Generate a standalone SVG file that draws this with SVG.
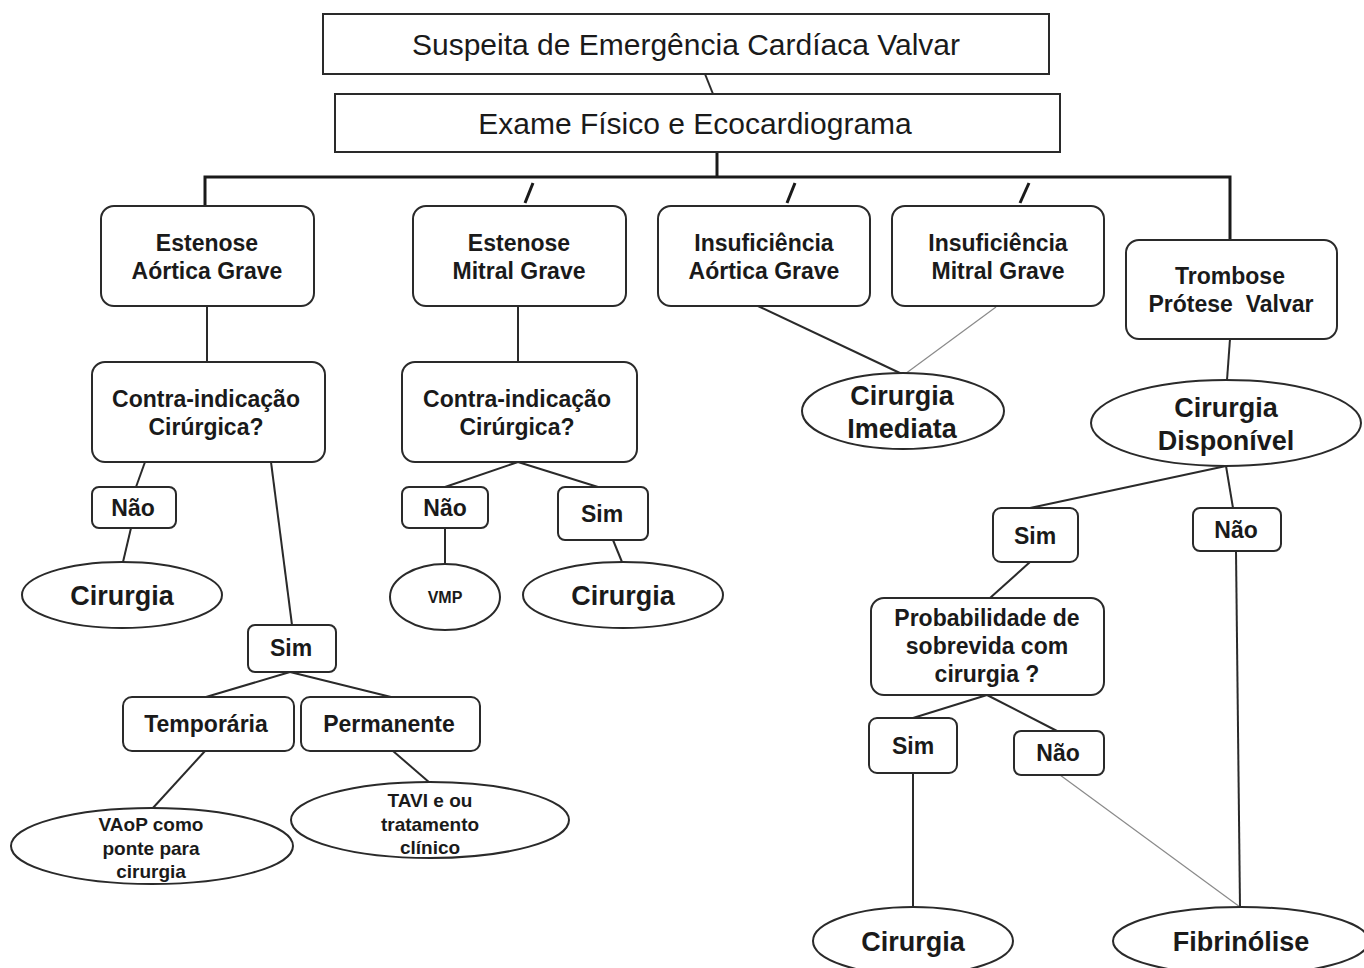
<svg xmlns="http://www.w3.org/2000/svg" width="1364" height="968" viewBox="0 0 1364 968">
<style>
  .bg{fill:#ffffff}
  .sq{fill:#fff;stroke:#2a2a2a;stroke-width:2}
  .bx{fill:#fff;stroke:#2a2a2a;stroke-width:2}
  .el{fill:#fff;stroke:#2a2a2a;stroke-width:2}
  .c{fill:none;stroke:#2a2a2a;stroke-width:2}
  .ct{fill:none;stroke:#1a1a1a;stroke-width:3}
  .cg{fill:none;stroke:#8a8a8a;stroke-width:1.2}
  text{font-family:"Liberation Sans",Arial,sans-serif;fill:#1a1a1a;text-anchor:middle}
  .t1{font-size:30px}
  .tb{font-size:23px;font-weight:bold}
  .tl{font-size:27px;font-weight:bold}
  .ts{font-size:19px;font-weight:bold}
</style>
<rect class="bg" width="1364" height="968"/>
<g id="connectors">
  <line class="c" x1="705" y1="74" x2="713" y2="94"/>
  <line class="ct" x1="717" y1="152" x2="717" y2="178"/>
  <polyline class="ct" points="205,206 205,177 1230,177 1230,240"/>
  <line class="ct" x1="533" y1="183" x2="525" y2="203"/>
  <line class="ct" x1="795" y1="183" x2="787" y2="203"/>
  <line class="ct" x1="1029" y1="183" x2="1020" y2="203"/>
  <line class="c" x1="207" y1="306" x2="207" y2="362"/>
  <line class="c" x1="518" y1="306" x2="518" y2="362"/>
  <line class="c" x1="758" y1="306" x2="902" y2="374"/>
  <line class="cg" x1="996" y1="307" x2="905" y2="374"/>
  <line class="c" x1="1230" y1="339" x2="1227" y2="380"/>
  <line class="c" x1="145" y1="462" x2="136" y2="487"/>
  <line class="c" x1="131" y1="528" x2="123" y2="562"/>
  <line class="c" x1="271" y1="462" x2="292" y2="625"/>
  <line class="c" x1="290" y1="672" x2="206" y2="697"/>
  <line class="c" x1="290" y1="672" x2="391" y2="697"/>
  <line class="c" x1="205" y1="751" x2="152" y2="809"/>
  <line class="c" x1="393" y1="751" x2="430" y2="783"/>
  <line class="c" x1="518" y1="462" x2="445" y2="487"/>
  <line class="c" x1="518" y1="462" x2="598" y2="487"/>
  <line class="c" x1="445" y1="528" x2="445" y2="564"/>
  <line class="c" x1="613" y1="540" x2="622" y2="562"/>
  <line class="c" x1="1226" y1="466" x2="1030" y2="508"/>
  <line class="c" x1="1226" y1="466" x2="1233" y2="508"/>
  <line class="c" x1="1030" y1="562" x2="990" y2="598"/>
  <line class="c" x1="1236" y1="551" x2="1240" y2="907"/>
  <line class="c" x1="987" y1="695" x2="913" y2="718"/>
  <line class="c" x1="987" y1="695" x2="1057" y2="731"/>
  <line class="c" x1="913" y1="773" x2="913" y2="907"/>
  <line class="cg" x1="1060" y1="775" x2="1240" y2="907"/>
</g>
<g id="n-suspeita">
  <rect class="sq" x="323" y="14" width="726" height="60"/>
  <text class="t1" x="686" y="55">Suspeita de Emergência Cardíaca Valvar</text>
</g>
<g id="n-exame">
  <rect class="sq" x="335" y="94" width="725" height="58"/>
  <text class="t1" x="695" y="134">Exame Físico e Ecocardiograma</text>
</g>
<g id="n-eao">
  <rect class="bx" x="101" y="206" width="213" height="100" rx="13"/>
  <text class="tb" x="207" y="251">Estenose</text>
  <text class="tb" x="207" y="279">Aórtica Grave</text>
</g>
<g id="n-emi">
  <rect class="bx" x="413" y="206" width="213" height="100" rx="13"/>
  <text class="tb" x="519" y="251">Estenose</text>
  <text class="tb" x="519" y="279">Mitral Grave</text>
</g>
<g id="n-iao">
  <rect class="bx" x="658" y="206" width="212" height="100" rx="13"/>
  <text class="tb" x="764" y="251">Insuficiência</text>
  <text class="tb" x="764" y="279">Aórtica Grave</text>
</g>
<g id="n-imi">
  <rect class="bx" x="892" y="206" width="212" height="100" rx="13"/>
  <text class="tb" x="998" y="251">Insuficiência</text>
  <text class="tb" x="998" y="279">Mitral Grave</text>
</g>
<g id="n-trombose">
  <rect class="bx" x="1126" y="240" width="211" height="99" rx="13"/>
  <text class="tb" x="1230" y="284">Trombose</text>
  <text class="tb" x="1231" y="312" xml:space="preserve">Prótese  Valvar</text>
</g>
<g id="n-contra1">
  <rect class="bx" x="92" y="362" width="233" height="100" rx="13"/>
  <text class="tb" x="206" y="407">Contra-indicação</text>
  <text class="tb" x="206" y="435">Cirúrgica?</text>
</g>
<g id="n-contra2">
  <rect class="bx" x="402" y="362" width="235" height="100" rx="13"/>
  <text class="tb" x="517" y="407">Contra-indicação</text>
  <text class="tb" x="517" y="435">Cirúrgica?</text>
</g>
<g id="n-imediata">
  <ellipse class="el" cx="903" cy="411" rx="101" ry="38"/>
  <text class="tl" x="902" y="405">Cirurgia</text>
  <text class="tl" x="902" y="438">Imediata</text>
</g>
<g id="n-disponivel">
  <ellipse class="el" cx="1226" cy="423" rx="135" ry="43"/>
  <text class="tl" x="1226" y="417">Cirurgia</text>
  <text class="tl" x="1226" y="450">Disponível</text>
</g>
<g id="n-nao1">
  <rect class="bx" x="92" y="487" width="84" height="41" rx="7"/>
  <text class="tb" x="133" y="516">Não</text>
</g>
<g id="n-cir1">
  <ellipse class="el" cx="122" cy="595" rx="100" ry="33"/>
  <text class="tl" x="122" y="605">Cirurgia</text>
</g>
<g id="n-sim1">
  <rect class="bx" x="248" y="625" width="88" height="47" rx="7"/>
  <text class="tb" x="291" y="656">Sim</text>
</g>
<g id="n-temp">
  <rect class="bx" x="123" y="697" width="171" height="54" rx="9"/>
  <text class="tb" x="206" y="732">Temporária</text>
</g>
<g id="n-perm">
  <rect class="bx" x="301" y="697" width="179" height="54" rx="9"/>
  <text class="tb" x="389" y="732">Permanente</text>
</g>
<g id="n-vaop">
  <ellipse class="el" cx="152" cy="846" rx="141" ry="38"/>
  <text class="ts" x="151" y="831">VAoP como</text>
  <text class="ts" x="151" y="855">ponte para</text>
  <text class="ts" x="151" y="878">cirurgia</text>
</g>
<g id="n-tavi">
  <ellipse class="el" cx="430" cy="820" rx="139" ry="38"/>
  <text class="ts" x="430" y="807">TAVI e ou</text>
  <text class="ts" x="430" y="831">tratamento</text>
  <text class="ts" x="430" y="854">clínico</text>
</g>
<g id="n-nao2">
  <rect class="bx" x="402" y="487" width="86" height="41" rx="7"/>
  <text class="tb" x="445" y="516">Não</text>
</g>
<g id="n-sim2">
  <rect class="bx" x="558" y="487" width="90" height="53" rx="7"/>
  <text class="tb" x="602" y="522">Sim</text>
</g>
<g id="n-vmp">
  <ellipse class="el" cx="445" cy="597" rx="55" ry="33"/>
  <text class="ts" x="445" y="603" style="font-size:16px">VMP</text>
</g>
<g id="n-cir2">
  <ellipse class="el" cx="623" cy="595" rx="100" ry="33"/>
  <text class="tl" x="623" y="605">Cirurgia</text>
</g>
<g id="n-sim3">
  <rect class="bx" x="993" y="508" width="85" height="54" rx="8"/>
  <text class="tb" x="1035" y="544">Sim</text>
</g>
<g id="n-nao3">
  <rect class="bx" x="1193" y="508" width="88" height="43" rx="7"/>
  <text class="tb" x="1236" y="538">Não</text>
</g>
<g id="n-prob">
  <rect class="bx" x="871" y="598" width="233" height="97" rx="13"/>
  <text class="tb" x="987" y="626">Probabilidade de</text>
  <text class="tb" x="987" y="654">sobrevida com</text>
  <text class="tb" x="987" y="682">cirurgia ?</text>
</g>
<g id="n-sim4">
  <rect class="bx" x="869" y="718" width="88" height="55" rx="8"/>
  <text class="tb" x="913" y="754">Sim</text>
</g>
<g id="n-nao4">
  <rect class="bx" x="1014" y="731" width="90" height="44" rx="7"/>
  <text class="tb" x="1058" y="761">Não</text>
</g>
<g id="n-cir3">
  <ellipse class="el" cx="913" cy="941" rx="100" ry="34"/>
  <text class="tl" x="913" y="951">Cirurgia</text>
</g>
<g id="n-fibrinolise">
  <ellipse class="el" cx="1241" cy="941" rx="128" ry="34"/>
  <text class="tl" x="1241" y="951">Fibrinólise</text>
</g>
</svg>
